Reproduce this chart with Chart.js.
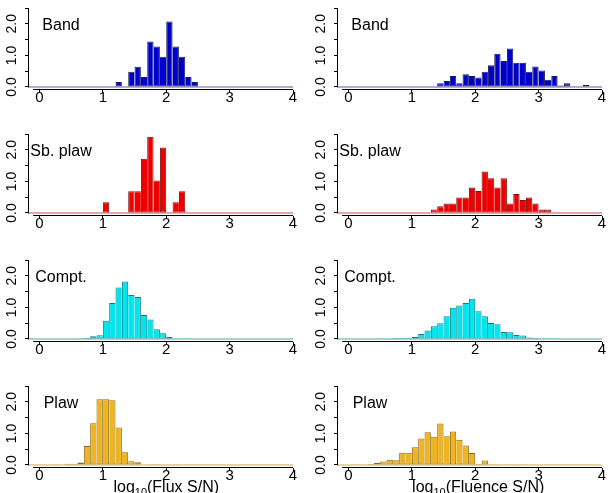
<!DOCTYPE html>
<html>
<head>
<meta charset="utf-8">
<script src="https://cdn.jsdelivr.net/npm/chart.js@4.4.1/dist/chart.umd.min.js"></script>
<style>
  html, body { margin: 0; padding: 0; background: #fff; width: 608px; height: 493px; overflow: hidden; position: relative; }
  canvas { position: absolute; }
</style>
</head>
<body>
<script>
// Histogram densities of log10(S/N), 0.1-wide bins, one array per model and quantity.
const binWidth = 0.1;
const histLow = -0.2;
const histHigh = 4.0;
const xTicks = [0, 1, 2, 3, 4];
const yTicks = [0, 0.5, 1, 1.5, 2, 2.5];
const models = ['Band', 'Sb. plaw', 'Compt.', 'Plaw'];
const quantities = ['Flux S/N', 'Fluence S/N'];

// first bin edge of each series, then the bin heights
const bandFluxStart = 1.2;
const bandFlux = [0.16, 0, 0.48, 0.64, 0.32, 1.44, 1.28, 0.96, 2.07, 1.28, 0.96, 0.32, 0.16];
const bandFluenceStart = 1.4;
const bandFluence = [0.12, 0.19, 0.35, 0.12, 0.40, 0.35, 0.30, 0.48, 0.69, 1.05, 0.82, 1.22,
                     0.77, 0.77, 0.48, 0.65, 0.52, 0.23, 0.35, 0.05, 0.12, 0, 0, 0.06];

const sbplawFluxStart = 1.0;
const sbplawFlux = [0.34, 0, 0, 0, 0.69, 0.69, 1.72, 2.41, 1.03, 2.07, 0, 0.34, 0.69];
const sbplawFluenceStart = 1.3;
const sbplawFluence = [0.11, 0.21, 0.30, 0.30, 0.49, 0.49, 0.81, 0.70, 1.31, 1.10, 0.81, 1.10,
                       0.30, 0.60, 0.41, 0.49, 0.30, 0.11, 0.11];

const comptFluxStart = -0.2;
const comptFlux = [0.01, 0, 0, 0, 0, 0, 0, 0, 0.02, 0.04, 0.09, 0.12, 0.58, 1.14, 1.63, 1.82,
                   1.39, 1.33, 0.76, 0.62, 0.31, 0.18, 0.06, 0.01, 0, 0.01];
const comptFluenceStart = 0.5;
const comptFluence = [0.02, 0, 0.03, 0.04, 0.04, 0.07, 0.16, 0.27, 0.40, 0.50, 0.72, 0.99, 1.06,
                      1.14, 1.27, 0.88, 0.72, 0.51, 0.47, 0.22, 0.21, 0.13, 0.11, 0.05, 0.04,
                      0.02, 0.01, 0.01];

const plawFluxStart = 0.2;
const plawFlux = [0.02, 0, 0.04, 0.04, 0.08, 0.60, 1.32, 2.08, 2.08, 2.05, 1.19, 0.40, 0.12,
                  0.09, 0, 0.02, 0.02, 0, 0, 0.02];
const plawFluenceStart = 0.3;
const plawFluence = [0.03, 0.06, 0.11, 0.17, 0.15, 0.39, 0.39, 0.56, 0.84, 1.04, 0.89, 1.31,
                     0.91, 1.06, 0.80, 0.62, 0.38, 0.03, 0.14, 0.02, 0.02, 0, 0, 0.02];

// colours per model
const fillColors = ['#0000cd', '#ee0000', '#00e5ee', '#eeb422'];
const edgeColors = ['#1c1c55', '#7a1010', '#0b7f85', '#8b6914'];
const baseColors = ['#5c5cb0', '#cc5050', '#4aa6a8', '#cfa84a'];

const series = [
  [[bandFluxStart, bandFlux], [bandFluenceStart, bandFluence]],
  [[sbplawFluxStart, sbplawFlux], [sbplawFluenceStart, sbplawFluence]],
  [[comptFluxStart, comptFlux], [comptFluenceStart, comptFluence]],
  [[plawFluxStart, plawFlux], [plawFluenceStart, plawFluence]]
];

Chart.defaults.font.family = "'Liberation Sans', Arial, Helvetica, sans-serif";
Chart.defaults.color = '#000';

const FONT = "'Liberation Sans', Arial, Helvetica, sans-serif";

// detached x and y axis lines, the model name, and the x-axis title on the last row
const panelDecor = {
  id: 'panelDecor',
  afterDraw(chart, args, opts) {
    const ctx = chart.ctx;
    const area = chart.chartArea;
    const xs = chart.scales.x;
    const ys = chart.scales.y;
    ctx.save();
    ctx.globalAlpha = 1;
    ctx.setLineDash([]);
    ctx.strokeStyle = '#000000';
    ctx.lineWidth = 1;
    const yb = Math.round(area.bottom) - 0.5;
    ctx.beginPath();
    ctx.moveTo(xs.getPixelForValue(-0.1), yb);
    ctx.lineTo(xs.getPixelForValue(4), yb);
    ctx.stroke();
    const xl = Math.round(area.left) - 0.5;
    ctx.beginPath();
    ctx.moveTo(xl, Math.round(ys.getPixelForValue(0)) + 0.5);
    ctx.lineTo(xl, ys.getPixelForValue(2.5));
    ctx.stroke();

    ctx.fillStyle = '#000';
    ctx.font = '16px ' + FONT;
    ctx.textAlign = 'center';
    ctx.textBaseline = 'alphabetic';
    ctx.fillText(opts.label, xs.getPixelForValue(0.34), ys.getPixelForValue(1.8));

    if (opts.title) {
      const big = '16px ' + FONT, small = '11px ' + FONT;
      const parts = [['log', big, 0], ['10', small, 4], ['(' + opts.title + ')', big, 0]];
      let total = 0;
      parts.forEach(p => { ctx.font = p[1]; p.push(ctx.measureText(p[0]).width); total += p[3]; });
      let cx = xs.getPixelForValue(2) + opts.titleShift - total / 2;
      const base = area.bottom + 23.5;
      ctx.textAlign = 'left';
      parts.forEach(p => { ctx.font = p[1]; ctx.fillText(p[0], cx, base + p[2]); cx += p[3]; });
    }
    ctx.restore();
  }
};

function edgeWidths(c) {
  const d = c.dataset.data;
  const i = c.dataIndex;
  const cur = d[i].y;
  const prev = i > 0 ? d[i - 1].y : 0;
  const next = i < d.length - 1 ? d[i + 1].y : 0;
  return { top: 1, bottom: 1, left: prev < cur ? 1 : 0, right: next <= cur ? 1 : 0 };
}

function makePanel(row, col) {
  const [start, values] = series[row][col];
  const h = row === 3 ? 115 : 126;
  const canvas = document.createElement('canvas');
  canvas.width = 304;
  canvas.height = h;
  canvas.style.width = '304px';
  canvas.style.height = h + 'px';
  canvas.style.left = (col * 309) + 'px';
  canvas.style.top = (row * 126) + 'px';
  document.body.appendChild(canvas);

  const pts = values.map((v, i) => ({ x: +(start + binWidth * (i + 0.5)).toFixed(3), y: v }));

  new Chart(canvas, {
    type: 'bar',
    data: {
      datasets: [
        {
          type: 'bar',
          data: pts,
          backgroundColor: fillColors[row],
          borderColor: edgeColors[row],
          borderWidth: edgeWidths,
          borderSkipped: false,
          barPercentage: 1,
          categoryPercentage: 1,
          inflateAmount: 0,
          clip: 0,
          order: 0
        },
        {
          type: 'line',
          data: [{ x: histLow, y: 0 }, { x: histHigh, y: 0 }],
          borderColor: baseColors[row],
          borderWidth: 1,
          pointRadius: 0,
          clip: 0,
          order: 1
        }
      ]
    },
    options: {
      responsive: false,
      animation: false,
      devicePixelRatio: 1,
      layout: { padding: { top: 8, right: 11, bottom: 0, left: 0 } },
      plugins: {
        legend: { display: false },
        tooltip: { enabled: false },
        panelDecor: {
          label: models[row],
          title: row === 3 ? quantities[col] : null,
          titleShift: col === 0 ? 0 : 3
        }
      },
      scales: {
        x: {
          type: 'linear',
          offset: false,
          min: -0.165,
          max: 4,
          afterBuildTicks: s => { s.ticks = xTicks.map(v => ({ value: v })); },
          afterFit: s => { s.height = h - 90; },
          grid: { offset: false, drawOnChartArea: false, tickLength: 3, color: '#000' },
          border: { display: false },
          ticks: { autoSkip: false, maxRotation: 0, padding: -4, font: { size: 15 }, color: '#000',
                   callback: v => String(v) }
        },
        y: {
          type: 'linear',
          min: -0.095,
          max: 2.5,
          afterBuildTicks: s => { s.ticks = yTicks.map(v => ({ value: v })); },
          afterFit: s => { s.width = 29; },
          grid: { drawOnChartArea: false, tickLength: 4, color: '#000' },
          border: { display: false },
          ticks: { autoSkip: false, minRotation: 90, maxRotation: 90, crossAlign: 'center', padding: 3,
                   font: { size: 14, lineHeight: 0.5 }, color: '#000',
                   callback: v => Number.isInteger(v) ? v.toFixed(1) : '' }
        }
      }
    },
    plugins: [panelDecor]
  });
}

for (let r = 0; r < 4; r++) {
  for (let c = 0; c < 2; c++) makePanel(r, c);
}
</script>
</body>
</html>
